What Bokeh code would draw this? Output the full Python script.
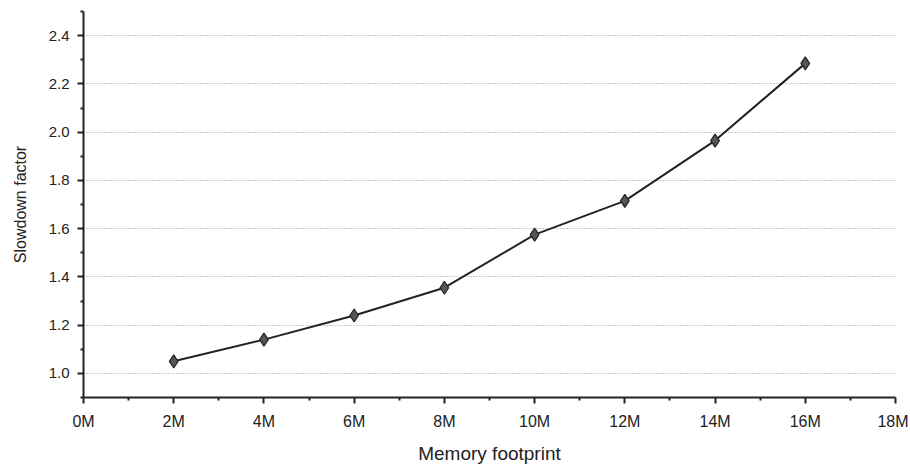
from bokeh.plotting import figure
from bokeh.models import FixedTicker, Range1d
from bokeh.embed import file_html
from bokeh.resources import INLINE

# Data
memory_m = [2, 4, 6, 8, 10, 12, 14, 16]
slowdown = [1.05, 1.14, 1.24, 1.355, 1.575, 1.715, 1.965, 2.285]
x_ticks = [0, 2, 4, 6, 8, 10, 12, 14, 16, 18]
x_tick_labels = ["0M", "2M", "4M", "6M", "8M", "10M", "12M", "14M", "16M", "18M"]
y_ticks = [1.0, 1.2, 1.4, 1.6, 1.8, 2.0, 2.2, 2.4]
y_tick_labels = ["1.0", "1.2", "1.4", "1.6", "1.8", "2.0", "2.2", "2.4"]
x_minor = [1, 3, 5, 7, 9, 11, 13, 15, 17]
y_minor = [0.9, 1.1, 1.3, 1.5, 1.7, 1.9, 2.1, 2.3, 2.5]

FONT = "Liberation Sans"

p = figure(width=908, height=466, output_backend="svg", toolbar_location=None,
           x_range=Range1d(0, 18), y_range=Range1d(0.9, 2.5),
           min_border_left=83, min_border_right=13, min_border_top=11, min_border_bottom=68)
p.outline_line_color = None
p.background_fill_color = "white"
p.border_fill_color = "white"

p.xaxis.ticker = FixedTicker(ticks=x_ticks, minor_ticks=x_minor)
p.yaxis.ticker = FixedTicker(ticks=y_ticks, minor_ticks=y_minor)
p.xaxis.major_label_overrides = {t: l for t, l in zip(x_ticks, x_tick_labels)}
p.yaxis.major_label_overrides = {t: l for t, l in zip(y_ticks, y_tick_labels)}

for ax in (p.xaxis, p.yaxis):
    ax.axis_line_width = 2
    ax.axis_line_color = "#222222"
    ax.major_tick_line_width = 2
    ax.major_tick_line_color = "#222222"
    ax.minor_tick_line_width = 2
    ax.minor_tick_line_color = "#222222"
    ax.major_tick_out = 6
    ax.major_tick_in = 0
    ax.minor_tick_out = 3
    ax.minor_tick_in = 0
    ax.major_label_text_font = FONT
    ax.major_label_text_color = "#222222"
    ax.axis_label_text_font = FONT
    ax.axis_label_text_font_style = "normal"
    ax.axis_label_text_color = "#222222"

p.xaxis.major_label_text_font_size = "16px"
p.yaxis.major_label_text_font_size = "15px"
p.xaxis.axis_label_text_font_size = "19px"
p.yaxis.axis_label_text_font_size = "16px"

p.xaxis.axis_label = "Memory footprint"
p.yaxis.axis_label = "Slowdown factor"
p.xaxis.major_label_standoff = 9
p.xaxis.axis_label_standoff = 10
p.yaxis.major_label_standoff = 8
p.yaxis.axis_label_standoff = 17

p.xgrid.grid_line_color = None
p.ygrid.grid_line_color = "#999999"
p.ygrid.grid_line_dash = "1 2"
p.ygrid.grid_line_width = 1

p.line(memory_m, slowdown, line_color="#222222", line_width=2)
p.scatter(memory_m, slowdown, marker="diamond", size=13, fill_color="#555555",
          line_color="#222222", line_width=1.2)

open("out.html", "w").write(file_html(p, INLINE))
